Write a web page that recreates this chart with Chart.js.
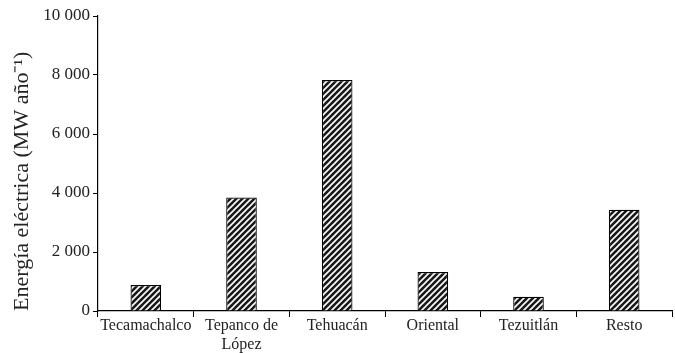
<!DOCTYPE html>
<html>
<head>
<meta charset="utf-8">
<script src="https://cdn.jsdelivr.net/npm/chart.js@4/dist/chart.umd.min.js"></script>
<style>
  html, body { margin: 0; padding: 0; background: #fff; }
  #wrap { width: 675px; height: 353px; position: relative; }
</style>
</head>
<body>
<div id="wrap"><canvas id="c"></canvas></div>
<script>
// regions and their electric energy (MW año-1)
const regions = ['Tecamachalco', ['Tepanco de', 'López'], 'Tehuacán', 'Oriental', 'Tezuitlán', 'Resto']
const energy = [880, 3850, 7830, 1320, 480, 3430]
const yTicks = [0, 2000, 4000, 6000, 8000, 10000]

// diagonal hatch fill
function hatch () {
  const s = 6
  const p = document.createElement('canvas')
  p.width = s; p.height = s
  const g = p.getContext('2d')
  g.fillStyle = '#1a1a1a'
  g.fillRect(0, 0, s, s)
  g.strokeStyle = '#ffffff'
  g.lineWidth = 1.6
  g.beginPath()
  g.moveTo(-1, s + 1); g.lineTo(s + 1, -1)
  g.moveTo(-1, 1); g.lineTo(1, -1)
  g.moveTo(s - 1, s + 1); g.lineTo(s + 1, s - 1)
  g.stroke()
  return g.createPattern(p, 'repeat')
}

const serif = 'Liberation Serif, Times New Roman, serif'
const fmt = v => String(v).replace(/\B(?=(\d{3})+(?!\d))/g, ' ')

new Chart(document.getElementById('c'), {
  type: 'bar',
  data: {
    labels: regions,
    datasets: [{
      data: energy,
      backgroundColor: hatch(),
      borderColor: '#000',
      borderWidth: 1.2,
      barPercentage: 0.32,
      categoryPercentage: 1
    }]
  },
  options: {
    responsive: true,
    maintainAspectRatio: false,
    animation: false,
    layout: { padding: { top: 16, right: 3, left: 0, bottom: 0 } },
    plugins: { legend: { display: false }, tooltip: { enabled: false } },
    scales: {
      x: {
        afterFit: axis => { axis.height = 42 },
        grid: { offset: true, drawOnChartArea: false, drawTicks: true, tickLength: 6, color: '#000' },
        border: { color: '#000', width: 1.2 },
        ticks: { color: '#222', font: { family: serif, size: 16, lineHeight: 1.15 }, padding: 0, maxRotation: 0 }
      },
      y: {
        min: 0,
        max: 10000,
        afterBuildTicks: axis => { axis.ticks = yTicks.map(v => ({ value: v })) },
        afterFit: axis => { axis.width = 98 },
        grid: { drawOnChartArea: false, drawTicks: true, tickLength: 5, color: '#000' },
        border: { color: '#000', width: 1.2 },
        ticks: { color: '#222', font: { family: serif, size: 17 }, padding: 3, callback: v => fmt(v) },
        title: { display: true, align: 'start', text: 'Energía eléctrica (MW año⁻¹)', color: '#222', font: { family: serif, size: 22 }, padding: { top: 9, bottom: 0 } }
      }
    }
  }
})
</script>
</body>
</html>
